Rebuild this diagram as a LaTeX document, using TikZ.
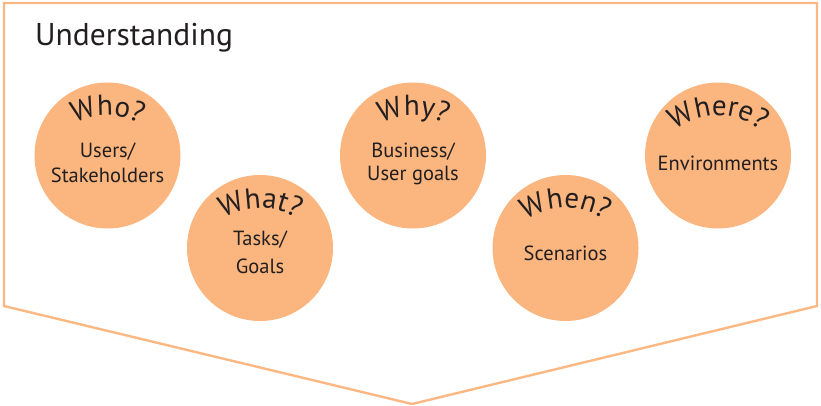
\documentclass[tikz,border=0pt]{standalone}
\usepackage{fontspec}
\setmainfont{PT Sans}
\usetikzlibrary{decorations.text}
\definecolor{orfill}{RGB}{251,181,126}
\definecolor{orline}{RGB}{251,184,130}
\definecolor{ink}{RGB}{35,31,32}
\tikzset{
  outline/.style={draw=orline, line width=2.4pt, line join=miter},
  circ/.style={circle, fill=orfill, minimum size=146pt, inner sep=0pt},
  body/.style={anchor=base, text=ink, font=\fontsize{20.5}{20.5}\selectfont, inner sep=0pt},
  title/.style={anchor=base west, text=ink, font=\fontsize{31.5}{31.5}\selectfont, inner sep=0pt},
  qword/.style={decorate, decoration={text along path, text align=center,
     text color=ink, text={|\fontsize{29}{29}\selectfont|#1}}}
}
\begin{document}
\begin{tikzpicture}[x=1pt,y=1pt]
\useasboundingbox (0,0) rectangle (821,-406);
\draw[outline] (4,-3) -- (817,-3) -- (817,-306) -- (412,-404) -- (4,-306) -- cycle;
\node[title] (und) at (35,-46) {Understanding};
% circles
\node[circ] (who) at (107.5,-155.5) {};
\node[circ] (what) at (260,-248) {};
\node[circ] (why) at (413,-155.5) {};
\node[circ] (when) at (565.5,-248) {};
\node[circ] (where) at (718,-155.5) {};
% curved words
\foreach \c/\w in {who/Who?,what/What?,why/Why?,when/When?,where/Where?}{
  \path[qword=\w] ([shift={(0,-30)}]\c.center) ++(150:70) arc[start angle=150,end angle=30,radius=70];
}
% body text
\node[body] (who1) at ([yshift=-2]who.center) {Users/};
\node[body] (who2) at ([yshift=-27]who.center) {Stakeholders};
\node[body] (what1) at ([yshift=3]what.center) {Tasks/};
\node[body] (what2) at ([yshift=-25]what.center) {Goals};
\node[body] (why1) at ([yshift=-2]why.center) {Business/};
\node[body] (why2) at ([yshift=-25]why.center) {User goals};
\node[body] (when1) at ([yshift=-12]when.center) {Scenarios};
\node[body] (where1) at ([yshift=-15]where.center) {Environments};
\end{tikzpicture}
\end{document}
